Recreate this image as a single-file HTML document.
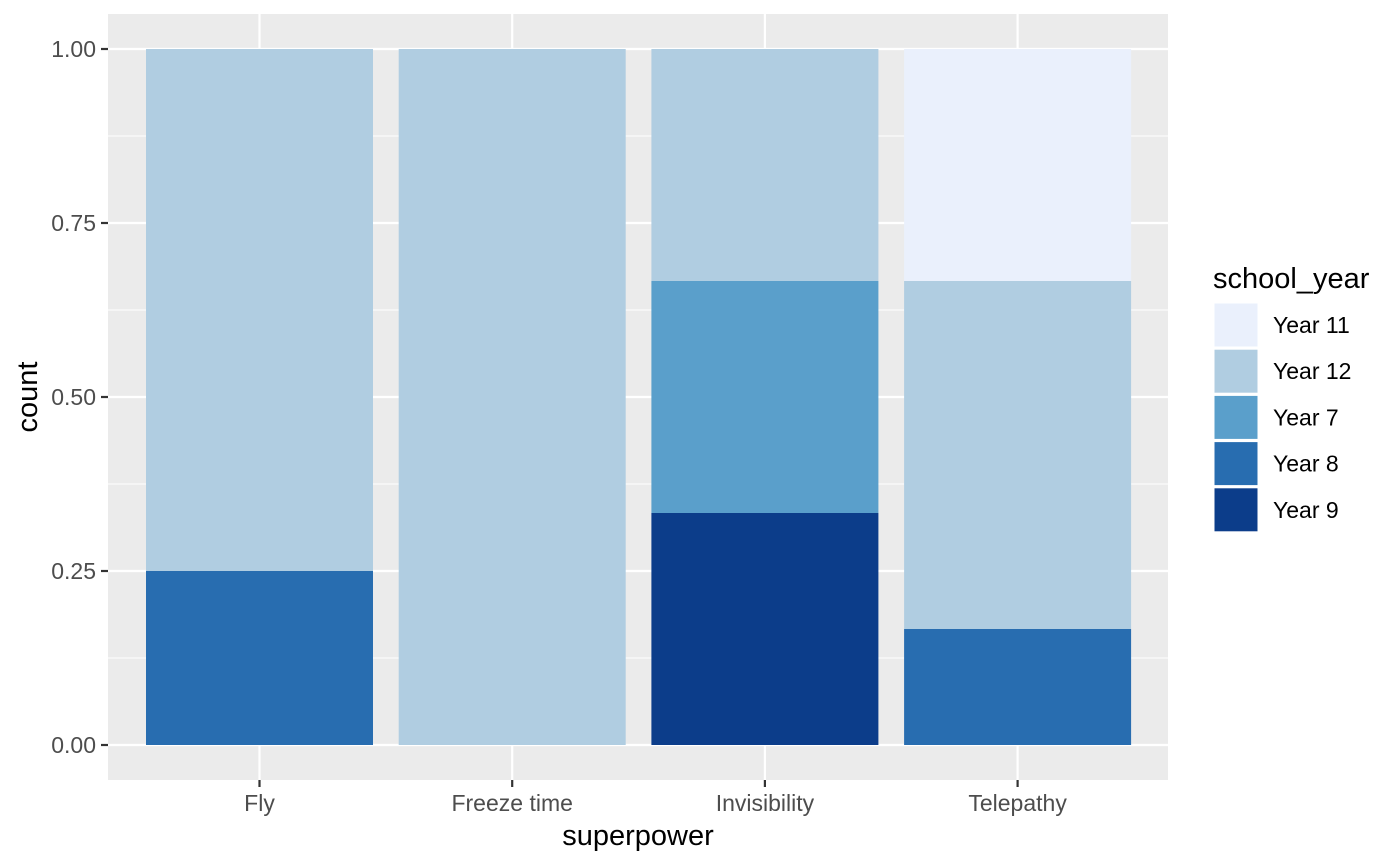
<!DOCTYPE html>
<html><head><meta charset="utf-8"><style>
body{margin:0;background:#fff;}
svg{display:block;font-family:"Liberation Sans",Arial,sans-serif;}
</style></head><body>
<svg id="chart" width="1400" height="865">
<rect x="108" y="14" width="1060" height="766" fill="#ebebeb"/>
<g id="grid"></g><g id="bars"></g><g id="axes"></g><g id="legend"></g>
<text x="638" y="845" font-size="29" text-anchor="middle" fill="#000">superpower</text>
<text transform="translate(37,397) rotate(-90)" font-size="29" text-anchor="middle" fill="#000">count</text>
</svg>
<script>
const categories=["Fly","Freeze time","Invisibility","Telepathy"];
const seriesNames=["Year 11","Year 12","Year 7","Year 8","Year 9"];
const colors=["#eaf0fc","#b0cde1","#5a9fcb","#286db0","#0c3d8a"];
const year11=[0,0,0,1/3];
const year12=[0.75,1,1/3,0.5];
const year7=[0,0,1/3,0];
const year8=[0.25,0,0,1/6];
const year9=[0,0,1/3,0];
const yTicks=[0,0.25,0.5,0.75,1];
const yTickLabels=["0.00","0.25","0.50","0.75","1.00"];
const NS="http://www.w3.org/2000/svg";
const y=v=>745-v*696;
const band=252.7, x=i=>259.5+i*band, bw=227;
function mk(tag,attrs,parent){const e=document.createElementNS(NS,tag);for(const k in attrs)e.setAttribute(k,attrs[k]);parent.appendChild(e);return e;}
const grid=document.getElementById('grid'),bars=document.getElementById('bars'),axes=document.getElementById('axes'),legend=document.getElementById('legend');
for(let i=0;i<yTicks.length-1;i++){const m=(yTicks[i]+yTicks[i+1])/2;
 const l=mk('line',{x1:108,x2:1168,y1:y(m),y2:y(m),stroke:'#fff','stroke-width':1.1},grid);
 
 }
yTicks.forEach((t,i)=>{
 const l=mk('line',{x1:108,x2:1168,y1:y(t),y2:y(t),stroke:'#fff','stroke-width':2.2},grid);
 
 
 mk('line',{x1:101,x2:108,y1:y(t),y2:y(t),stroke:'#333','stroke-width':2.2},axes);
 const tx=mk('text',{x:96,y:y(t)+8,'font-size':23,'text-anchor':'end',fill:'#4d4d4d'},axes);
 tx.textContent=yTickLabels[i];
 
 
});
categories.forEach((c,i)=>{
 const l=mk('line',{x1:x(i),x2:x(i),y1:14,y2:780,stroke:'#fff','stroke-width':2.2},grid);
 
 
 mk('line',{x1:x(i),x2:x(i),y1:780,y2:787,stroke:'#333','stroke-width':2.2},axes);
 const tx=mk('text',{x:x(i),y:811,'font-size':23,'text-anchor':'middle',fill:'#4d4d4d'},axes);
 tx.textContent=c;
 
 
});
const series=[year11,year12,year7,year8,year9];
categories.forEach((c,i)=>{
 let base=0;
 for(let s=series.length-1;s>=0;s--){const v=series[s][i];if(v<=0)continue;
  const r=mk('rect',{x:x(i)-bw/2,y:y(base+v),width:bw,height:y(base)-y(base+v),fill:colors[s]},bars);
  
  
  base+=v;}
});
const lt=mk('text',{x:1213,y:288,'font-size':29,fill:'#000'},legend);
lt.textContent='school_year';


seriesNames.forEach((n,i)=>{
 const ky=303+i*46.2;
 const r=mk('rect',{x:1214,y:ky,width:44,height:44,fill:colors[i],stroke:'#fff','stroke-width':1},legend);
 
 
 const t=mk('text',{x:1273,y:ky+30,'font-size':23,fill:'#000'},legend);
 t.textContent=n;
 
 
});
</script>
</body></html>
